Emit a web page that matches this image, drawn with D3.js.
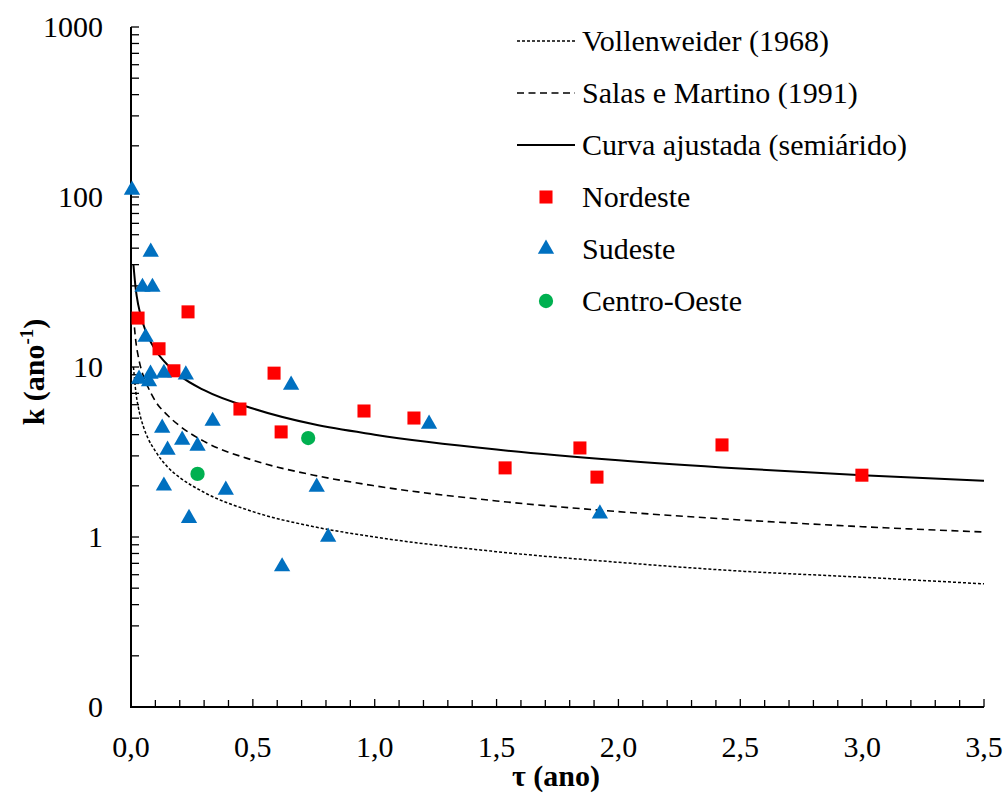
<!DOCTYPE html>
<html>
<head>
<meta charset="utf-8">
<script src="https://cdn.jsdelivr.net/npm/d3@7"></script>
</head>
<body style="margin:0">
<script>
// Curves (τ in years, k in 1/year)
const curveTau = [0.01, 0.02, 0.03, 0.05, 0.07, 0.1, 0.15, 0.2, 0.3, 0.5, 0.75, 1.0, 1.5, 2.0, 2.5, 3.0, 3.5];
const vollenweiderK = [10, 7.1, 5.8, 4.5, 3.8, 3.2, 2.58, 2.24, 1.83, 1.41, 1.15, 1.0, 0.82, 0.71, 0.63, 0.58, 0.53];
const salasK = [20, 14.1, 11.5, 8.9, 7.6, 6.3, 5.2, 4.5, 3.65, 2.83, 2.31, 2.0, 1.63, 1.41, 1.26, 1.15, 1.07];
const ajustadaK = [40, 28.3, 23.1, 17.9, 15.1, 12.6, 10.3, 8.9, 7.3, 5.7, 4.6, 4.0, 3.27, 2.83, 2.53, 2.31, 2.14];

// Observed reservoirs
const nordesteTau = [0.029, 0.115, 0.176, 0.234, 0.447, 0.587, 0.616, 0.956, 1.161, 1.535, 1.842, 1.912, 2.425, 2.999];
const nordesteK = [19.4, 12.8, 9.5, 21.1, 5.66, 9.2, 4.15, 5.51, 5.01, 2.55, 3.34, 2.25, 3.48, 2.31];

const sudesteTau = [0.004, 0.047, 0.088, 0.081, 0.060, 0.033, 0.074, 0.080, 0.135, 0.225, 0.128, 0.150, 0.210, 0.273, 0.335, 0.135, 0.389, 0.238, 0.657, 0.762, 0.809, 0.620, 1.223, 1.924];
const sudesteK = [110, 29.5, 29.5, 47.5, 15.0, 8.5, 8.2, 9.1, 9.2, 9.0, 4.38, 3.25, 3.72, 3.43, 4.81, 2.0, 1.89, 1.29, 7.84, 1.97, 1.0, 0.67, 4.62, 1.37];

const centroTau = [0.273, 0.727];
const centroK = [2.35, 3.82];

const xTickValues = [0, 0.5, 1.0, 1.5, 2.0, 2.5, 3.0, 3.5];
const xTickLabels = ["0,0", "0,5", "1,0", "1,5", "2,0", "2,5", "3,0", "3,5"];
const yTickValues = [0.1, 1, 10, 100, 1000];
const yTickLabels = ["0", "1", "10", "100", "1000"];

const legendNames = ["Vollenweider (1968)", "Salas e Martino (1991)", "Curva ajustada (semiárido)", "Nordeste", "Sudeste", "Centro-Oeste"];

const width = 1005, height = 806;
const margin = {left: 131, right: 21, top: 27, bottom: 99};
const serif = "'Liberation Serif'";

const svg = d3.select("body").append("svg")
    .attr("width", width)
    .attr("height", height)
    .attr("font-family", "Liberation Serif")
    .style("display", "block");

const x = d3.scaleLinear().domain([0, 3.5]).range([margin.left, width - margin.right]);
const y = d3.scaleLog().domain([0.1, 1000]).range([height - margin.bottom, margin.top]);

svg.append("defs").append("clipPath").attr("id", "plot-clip")
    .append("rect")
    .attr("x", margin.left).attr("y", margin.top)
    .attr("width", x(3.5) - x(0)).attr("height", y(0.1) - y(1000));

// minor ticks on y (2..9 in each decade), drawn inward
const yMinor = [];
for (let d = -1; d < 3; d++) {
    for (let m = 2; m <= 9; m++) yMinor.push(m * Math.pow(10, d));
}
svg.append("g").selectAll("line")
    .data(yMinor.concat(yTickValues))
    .join("line")
    .attr("x1", x(0)).attr("x2", x(0) + 8)
    .attr("y1", d => y(d)).attr("y2", d => y(d))
    .attr("stroke", "#000").attr("stroke-width", 1.3);

// x ticks every 0.1, upward
const xMinor = d3.range(0, 36).map(i => i / 10);
svg.append("g").selectAll("line")
    .data(xMinor)
    .join("line")
    .attr("x1", d => x(d)).attr("x2", d => x(d))
    .attr("y1", y(0.1)).attr("y2", d => y(0.1) - (Math.round(d * 10) % 5 === 0 ? 8 : 7))
    .attr("stroke", "#000").attr("stroke-width", 1.3);

// axis lines
svg.append("path")
    .attr("d", `M${x(0)},${y(1000)}V${y(0.1)}H${x(3.5)}`)
    .attr("fill", "none")
    .attr("stroke", "#000")
    .attr("stroke-width", 2);

// tick labels
svg.append("g").selectAll("text")
    .data(yTickValues)
    .join("text")
    .style("font-family", serif)
    .attr("x", x(0) - 28)
    .attr("y", d => y(d))
    .attr("dy", "0.33em")
    .attr("text-anchor", "end")
    .attr("font-size", 30)
    .text((d, i) => yTickLabels[i]);

svg.append("g").selectAll("text")
    .data(xTickValues)
    .join("text")
    .style("font-family", serif)
    .attr("x", d => x(d))
    .attr("y", 757)
    .attr("text-anchor", "middle")
    .attr("font-size", 30)
    .text((d, i) => xTickLabels[i]);

// axis titles
const yTitle = svg.append("text")
    .style("font-family", serif)
    .attr("transform", "translate(44,372) rotate(-90)")
    .attr("text-anchor", "middle")
    .attr("font-size", 30)
    .attr("font-weight", "bold");
yTitle.append("tspan").text("k (ano");
yTitle.append("tspan").attr("font-size", 19).attr("dy", -11).text("-1");
yTitle.append("tspan").attr("dy", 11).text(")");

svg.append("text")
    .style("font-family", serif)
    .attr("x", 556).attr("y", 786)
    .attr("text-anchor", "middle")
    .attr("font-size", 30)
    .attr("font-weight", "bold")
    .text("τ (ano)");

// model curves
const line = d3.line()
    .x(d => x(d[0]))
    .y(d => y(d[1]))
    .curve(d3.curveMonotoneX);

const curves = [
    {k: vollenweiderK, dash: "3,2", w: 1.5},
    {k: salasK, dash: "7,4.5", w: 1.6},
    {k: ajustadaK, dash: null, w: 2}
];

const curveG = svg.append("g").attr("clip-path", "url(#plot-clip)");
curves.forEach(c => {
    curveG.append("path")
        .datum(curveTau.map((t, i) => [t, c.k[i]]))
        .attr("d", line)
        .attr("fill", "none")
        .attr("stroke", "#000")
        .attr("stroke-width", c.w)
        .attr("stroke-dasharray", c.dash);
});

// scatter series
const series = [
    {tau: nordesteTau, k: nordesteK, type: d3.symbolSquare, size: 170, color: "#ff0000"},
    {tau: sudesteTau, k: sudesteK, type: d3.symbolTriangle, size: 115, color: "#0070c0"},
    {tau: centroTau, k: centroK, type: d3.symbolCircle, size: 160, color: "#00b050"}
];

series.forEach(s => {
    svg.append("g").selectAll("path")
        .data(s.tau.map((t, i) => [t, s.k[i]]))
        .join("path")
        .attr("transform", d => `translate(${x(d[0])},${y(d[1])})`)
        .attr("d", d3.symbol().type(s.type).size(s.size))
        .attr("fill", s.color);
});

// legend
const legend = svg.append("g");
const rowY = [41, 93, 145, 197, 249, 301];
legendNames.forEach((name, i) => {
    const g = legend.append("g").attr("transform", `translate(0,${rowY[i]})`);
    if (i < 3) {
        g.append("line")
            .attr("x1", 517).attr("x2", 575)
            .attr("stroke", "#000")
            .attr("stroke-width", curves[i].w)
            .attr("stroke-dasharray", curves[i].dash);
    } else {
        const s = series[i - 3];
        g.append("path")
            .attr("transform", "translate(546,0)")
            .attr("d", d3.symbol().type(s.type).size(s.size))
            .attr("fill", s.color);
    }
    g.append("text")
        .style("font-family", serif)
        .attr("x", 582)
        .attr("dy", "0.33em")
        .attr("font-size", 30)
        .text(name);
});
</script>
</body>
</html>
